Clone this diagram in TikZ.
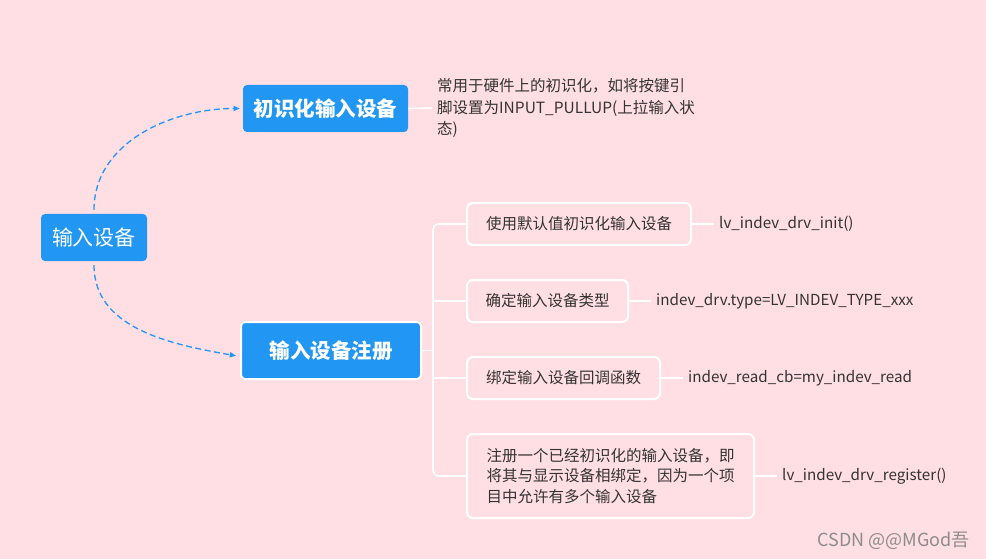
\documentclass[tikz,border=0pt]{standalone}
\usepackage{fontspec}
\setmainfont{Noto Sans CJK SC}
\usetikzlibrary{arrows.meta,positioning,calc}
\definecolor{bg}{HTML}{FFDFE3}
\definecolor{accent}{HTML}{2196F3}
\definecolor{ink}{HTML}{333333}
\definecolor{muted}{HTML}{8C8C8C}
\tikzset{
  topic/.style={fill=accent,rounded corners=4pt,text=white,inner sep=0pt,align=center,font=\fontsize{20.5}{24}\selectfont\bfseries},
  rootbox/.style={topic,font=\fontsize{21}{24}\selectfont},
  topicw/.style={topic,draw=white,line width=2pt},
  leaf/.style={draw=white,line width=2pt,rounded corners=6pt,inner sep=0pt,align=left,text=ink,font=\fontsize{15.5}{20.5}\selectfont},
  plain/.style={text=ink,inner sep=0pt,align=left,font=\fontsize{15.5}{21.5}\selectfont},
  code/.style={plain,font=\fontsize{15.2}{21.5}\selectfont},
  link/.style={draw=white,line width=1.6pt},
  tick/.style={link,shorten >=5pt},
  arm/.style={-{Triangle[length=2.2mm,width=1.8mm]},draw=accent,line width=1.3pt,dash pattern=on 6pt off 3.5pt},
}
\begin{document}
\begin{tikzpicture}[x=1pt,y=-1pt]
  \fill[bg] (0,0) rectangle (986,559);
  % main topics
  \node[rootbox,minimum width=106pt,minimum height=47pt] (dev) at (94,237.5) {输入设备};
  \node[topic,minimum width=165pt,minimum height=47pt] (init) at (325.5,108.5) {初识化输入设备};
  \node[topicw,minimum width=180pt,minimum height=57pt] (reg) at (331,350.5) {输入设备注册};
  \draw[arm,shorten <=4pt,shorten >=3pt] (dev.north) to[out=90,in=180] (init.west);
  \draw[arm,shorten <=4pt,shorten >=4pt] (dev.south) to[out=-90,in=170] ([yshift=-6pt]reg.west);
  % note of init
  \node[plain,anchor=west] (initnote) at (437,108) {常用于硬件上的初识化，如将按键引\\脚设置为INPUT\_PULLUP(上拉输入状\\态)};
  \draw[tick] (init.east) -- (initnote.west);
  % register steps
  \coordinate (trunk) at (433,0);
  \node[leaf,minimum width=224pt,minimum height=42pt] (s1) at (579,224) {使用默认值初识化输入设备};
  \node[leaf,minimum width=161pt,minimum height=42pt] (s2) at (547.5,301) {确定输入设备类型};
  \node[leaf,minimum width=193pt,minimum height=42pt] (s3) at (563.5,378) {绑定输入设备回调函数};
  \node[leaf,minimum width=287pt,minimum height=84pt] (s4) at (610.5,476) {注册一个已经初识化的输入设备，即\\将其与显示设备相绑定，因为一个项\\目中允许有多个输入设备};
  \draw[link,rounded corners=6pt] (s1.west) -| (trunk |- s4.west) -- (s4.west);
  \draw[link] (reg.east) -- (reg.east -| trunk);
  \foreach \s in {s2,s3} \draw[link] (trunk |- \s.west) -- (\s.west);
  % code per step
  \node[code,anchor=west] (c1) at (719,224) {lv\_indev\_drv\_init()};
  \node[code,anchor=west] (c2) at (656,301) {indev\_drv.type=LV\_INDEV\_TYPE\_xxx};
  \node[code,anchor=west] (c3) at (688,378) {indev\_read\_cb=my\_indev\_read};
  \node[code,anchor=west] (c4) at (782,476) {lv\_indev\_drv\_register()};
  \foreach \i in {1,...,4} \draw[tick] (s\i.east) -- (c\i.west);
  \node[text=muted,anchor=east,inner sep=0pt,font=\fontsize{18}{20}\selectfont] (mark) at (970,541) {CSDN @@MGod吾};
\end{tikzpicture}
\end{document}
